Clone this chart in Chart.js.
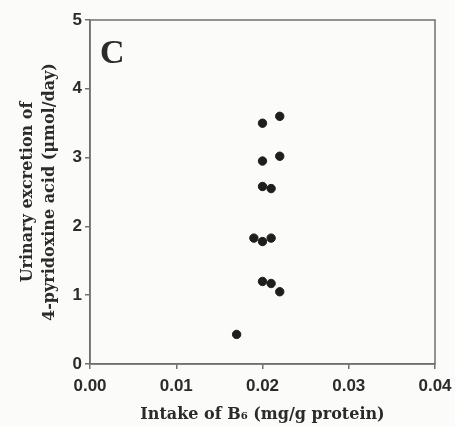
<!DOCTYPE html>
<html>
<head>
<meta charset="utf-8">
<script src="https://cdn.jsdelivr.net/npm/chart.js@4.4.0/dist/chart.umd.min.js"></script>
<style>
  html, body { margin: 0; padding: 0; background: #fbfbf9; }
  #wrap { width: 455px; height: 427px; }
</style>
</head>
<body>
<div id="wrap"><canvas id="b6-chart" width="455" height="427"></canvas></div>
<script>
// B6 intake (mg/g protein) vs urinary 4-pyridoxic acid (umol/day)
const intake = [0.020, 0.022, 0.020, 0.022, 0.020, 0.021, 0.019, 0.020, 0.021, 0.020, 0.021, 0.022, 0.017];
const excretion = [3.50, 3.60, 2.95, 3.02, 2.58, 2.55, 1.83, 1.78, 1.83, 1.20, 1.17, 1.05, 0.43];
const xTicks = [0, 0.01, 0.02, 0.03, 0.04];
const yTicks = [0, 1, 2, 3, 4, 5];
const panelLabel = 'C';

const axisColor = '#707070';
const textColor = '#2b2b2b';
const titleFont = '"DejaVu Serif", "Liberation Serif", serif';
const tickFont = '"Liberation Sans", Arial, sans-serif';

// box around the plot + panel letter
const framePlugin = {
    id: 'frame',
    afterDraw(chart) {
        const { ctx, chartArea: a } = chart;
        ctx.save();
        ctx.strokeStyle = axisColor;
        ctx.lineWidth = 1.5;
        ctx.strokeRect(a.left, a.top, a.right - a.left, a.bottom - a.top);
        ctx.fillStyle = textColor;
        ctx.font = 'bold 34px "Liberation Serif", "Times New Roman", serif';
        ctx.textBaseline = 'alphabetic';
        ctx.fillText(panelLabel, a.left + 10, a.top + 43);
        ctx.restore();
    }
};

new Chart(document.getElementById('b6-chart'), {
    type: 'scatter',
    data: {
        datasets: [{
            data: intake.map((x, i) => ({ x, y: excretion[i] })),
            backgroundColor: '#1e1e1e',
            borderColor: '#1e1e1e',
            pointRadius: 4.2,
            pointHoverRadius: 4.2
        }]
    },
    options: {
        responsive: false,
        animation: false,
        layout: { padding: { top: 20, right: 20, left: 0, bottom: 0 } },
        plugins: { legend: { display: false }, tooltip: { enabled: false } },
        scales: {
            x: {
                type: 'linear',
                min: xTicks[0],
                max: xTicks[xTicks.length - 1],
                afterFit: s => { s.height = 63; s.paddingRight = 0; s.paddingLeft = 0; },
                afterBuildTicks: s => { s.ticks = xTicks.map(v => ({ value: v })); },
                grid: { drawOnChartArea: false, tickLength: 5, color: axisColor, lineWidth: 1.5 },
                border: { color: axisColor, width: 1.5 },
                ticks: {
                    padding: 7,
                    color: textColor,
                    font: { family: tickFont, size: 17, weight: 'bold' },
                    callback: v => Number(v).toFixed(2)
                },
                title: {
                    display: true,
                    text: 'Intake of B\u2086 (mg/g protein)',
                    color: textColor,
                    font: { family: titleFont, size: 16, weight: 'bold' },
                    padding: { top: 0, bottom: 3 }
                }
            },
            y: {
                type: 'linear',
                min: yTicks[0],
                max: yTicks[yTicks.length - 1],
                afterFit: s => { s.width = 90; },
                afterBuildTicks: s => { s.ticks = yTicks.map(v => ({ value: v })); },
                grid: { drawOnChartArea: false, tickLength: 5, color: axisColor, lineWidth: 1.5 },
                border: { color: axisColor, width: 1.5 },
                ticks: {
                    padding: 3,
                    color: textColor,
                    font: { family: tickFont, size: 17, weight: 'bold' }
                },
                title: {
                    display: true,
                    text: ['Urinary excretion of', '4-pyridoxine acid (\u03bcmol/day)'],
                    color: textColor,
                    font: { family: titleFont, size: 16, weight: 'bold', lineHeight: 1.35 },
                    padding: { top: 17, bottom: 0 }
                }
            }
        }
    },
    plugins: [framePlugin]
});
</script>
</body>
</html>
